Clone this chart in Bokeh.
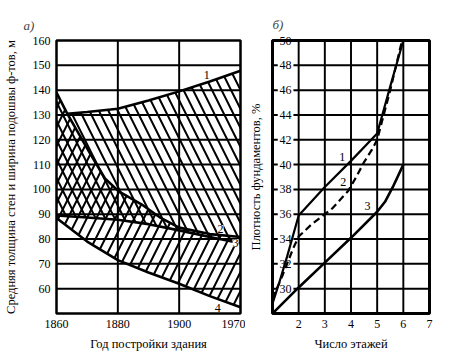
from bokeh.plotting import figure
from bokeh.layouts import row
from bokeh.models import FixedTicker, Range1d
from bokeh.core.properties import value
from bokeh.embed import file_html
from bokeh.resources import INLINE

# ---------------- Panel a) data ----------------
year_ticks = [1860, 1880, 1900, 1920]
year_tick_labels = {1860: "1860", 1880: "1880", 1900: "1900", 1920: "1970"}
year_grid = [1880, 1900]
wall_ticks = [60, 70, 80, 90, 100, 110, 120, 130, 140, 150, 160]
wall_grid = [60, 70, 80, 90, 100, 110, 120, 130, 140, 150]

line1_x = [1863.5, 1870, 1880, 1890, 1900, 1910, 1920]
line1_y = [130.5, 131.2, 132.5, 135.8, 139.5, 143.5, 147.8]
line2_x = [1860, 1863.5, 1870.6, 1875.8, 1880.3, 1887.7, 1894, 1900, 1910, 1920]
line2_y = [139.0, 130.5, 115.2, 104.4, 99.2, 94.0, 88.5, 84.6, 82.0, 80.8]
line3_x = [1860, 1870, 1880, 1890, 1900, 1910, 1920]
line3_y = [89.5, 88.7, 87.8, 86.0, 83.5, 80.8, 78.3]
line4_x = [1860, 1870, 1880, 1890, 1900, 1910, 1920]
line4_y = [88.5, 79.0, 71.5, 66.5, 62.0, 57.0, 52.5]

a_labels = ["1", "2", "3", "4"]
a_label_x = [1909.0, 1913.5, 1918.4, 1912.6]
a_label_y = [146.0, 84.0, 78.4, 52.4]

# ---------------- Panel б) data ----------------
floor_ticks = [2, 3, 4, 5, 6, 7]
floor_grid = [2, 3, 4, 5, 6]
density_ticks = [30, 32, 34, 36, 38, 40, 42, 44, 46, 48, 50]

c1_x = [1, 1.26, 1.56, 2, 3, 4, 5, 5.5, 6]
c1_y = [28.8, 30.5, 32.6, 35.9, 38.2, 40.3, 42.5, 46.3, 50.0]
c2_x = [1, 1.37, 1.8, 2, 2.5, 3, 3.3, 3.9, 4.2, 4.5, 4.8, 5, 5.5, 5.95]
c2_y = [29.2, 31.0, 33.3, 34.2, 35.2, 36.0, 36.5, 37.9, 39.0, 40.2, 41.2, 42.0, 46.0, 50.0]
c3_x = [1, 2, 3, 4, 5, 5.3, 5.6, 6]
c3_y = [28.0, 30.1, 32.1, 34.1, 36.2, 37.0, 38.2, 40.0]

b_labels = ["1", "2", "3"]
b_label_x = [3.67, 3.7, 4.63]
b_label_y = [40.6, 38.6, 36.7]

FONT = "Liberation Serif"

# ================= Figure a) =================
A_X0, A_X1, A_Y0, A_Y1 = 1860, 1920, 50, 160
A_HALF_X, A_HALF_Y = 0.32, 0.4   # half thickness of grid bars (~2 px)
pa = figure(width=245, height=353, output_backend="svg", toolbar_location=None,
            x_range=Range1d(A_X0, A_X1), y_range=Range1d(A_Y0, A_Y1),
            min_border_left=54, min_border_right=5, min_border_top=38,
            min_border_bottom=40, title="а)")
pa.title.text_font = FONT
pa.title.text_font_style = "italic"
pa.title.text_font_size = "13px"
pa.title.offset = -33
pa.title.standoff = 16
pa.outline_line_color = "black"
pa.outline_line_width = 2.5
pa.grid.visible = False

# grid as thin filled bars
pa.quad(left=[A_X0] * len(wall_grid), right=[A_X1] * len(wall_grid),
        bottom=[g - A_HALF_Y for g in wall_grid], top=[g + A_HALF_Y for g in wall_grid],
        fill_color="black", line_color=None)
pa.quad(left=[g - A_HALF_X for g in year_grid], right=[g + A_HALF_X for g in year_grid],
        bottom=[A_Y0] * len(year_grid), top=[A_Y1] * len(year_grid),
        fill_color="black", line_color=None)

upper_x = line2_x[:1] + line1_x + line3_x[::-1]
upper_y = line2_y[:1] + line1_y + line3_y[::-1]
lower_x = line2_x + line4_x[::-1]
lower_y = line2_y + line4_y[::-1]

pa.patch(upper_x, upper_y, fill_color=None, line_color=None,
         hatch_pattern="\\", hatch_color="black", hatch_weight=2, hatch_scale=19)
pa.patch(lower_x, lower_y, fill_color=None, line_color=None,
         hatch_pattern="/", hatch_color="black", hatch_weight=2, hatch_scale=19)

for xs, ys in [(line1_x, line1_y), (line2_x, line2_y), (line3_x, line3_y), (line4_x, line4_y)]:
    pa.line(xs, ys, line_color="black", line_width=2.6)

pa.text(a_label_x, a_label_y, text=a_labels, text_font=value(FONT),
        text_font_size="12px", text_align="center", text_baseline="middle",
        text_color="black", background_fill_color="white")

pa.xaxis.ticker = FixedTicker(ticks=year_ticks)
pa.xaxis.major_label_overrides = year_tick_labels
pa.yaxis.ticker = FixedTicker(ticks=wall_ticks)
for ax in (pa.xaxis, pa.yaxis):
    ax.axis_line_color = None
    ax.major_tick_out = 0
    ax.major_tick_in = 0
    ax.minor_tick_out = 0
    ax.minor_tick_in = 0
    ax.major_label_text_font = FONT
    ax.major_label_text_font_size = "12px"
    ax.major_label_text_color = "black"
    ax.axis_label_text_font = FONT
    ax.axis_label_text_font_size = "12.5px"
    ax.axis_label_text_font_style = "normal"
    ax.axis_label_text_color = "black"
pa.xaxis.axis_label = "Год постройки здания"
pa.yaxis.axis_label = "Средняя толщина стен и ширина подошвы ф-тов, м"
pa.yaxis.major_label_standoff = 6
pa.yaxis.axis_label_standoff = 12
pa.xaxis.major_label_standoff = 6
pa.xaxis.axis_label_standoff = 6

# ================= Figure б) =================
B_X0, B_X1, B_Y0, B_Y1 = 1, 7, 28, 50
B_GRID_START = 1.8
B_STUB = 1.2
B_HALF_X, B_HALF_Y = 0.037, 0.08   # half thickness of grid bars (~2 px)
pb = figure(width=204, height=353, output_backend="svg", toolbar_location=None,
            x_range=Range1d(B_X0, B_X1), y_range=Range1d(B_Y0, B_Y1),
            min_border_left=22, min_border_right=20, min_border_top=40,
            min_border_bottom=39, title="б)")
pb.title.text_font = FONT
pb.title.text_font_style = "italic"
pb.title.text_font_size = "13px"
pb.title.standoff = 18
pb.outline_line_color = "black"
pb.outline_line_width = 3
pb.grid.visible = False

pb.quad(left=[g - B_HALF_X for g in floor_grid], right=[g + B_HALF_X for g in floor_grid],
        bottom=[B_Y0] * len(floor_grid), top=[B_Y1] * len(floor_grid),
        fill_color="black", line_color=None)
pb.quad(left=[B_GRID_START] * len(density_ticks), right=[B_X1] * len(density_ticks),
        bottom=[g - B_HALF_Y for g in density_ticks], top=[g + B_HALF_Y for g in density_ticks],
        fill_color="black", line_color=None)
# short tick stubs on the left axis
pb.quad(left=[B_X0] * len(density_ticks), right=[B_STUB] * len(density_ticks),
        bottom=[g - B_HALF_Y for g in density_ticks], top=[g + B_HALF_Y for g in density_ticks],
        fill_color="black", line_color=None)

pb.line(c3_x, c3_y, line_color="black", line_width=2.6)
pb.line(c2_x, c2_y, line_color="black", line_width=2.2, line_dash="7 4")
pb.line(c1_x, c1_y, line_color="black", line_width=2.2)

pb.text(b_label_x, b_label_y, text=b_labels, text_font=value(FONT),
        text_font_size="12px", text_align="center", text_baseline="middle",
        text_color="black")

pb.xaxis.ticker = FixedTicker(ticks=floor_ticks)
pb.yaxis.ticker = FixedTicker(ticks=density_ticks)
for ax in (pb.xaxis, pb.yaxis):
    ax.axis_line_color = None
    ax.minor_tick_out = 0
    ax.minor_tick_in = 0
    ax.major_tick_out = 0
    ax.major_tick_in = 0
    ax.major_label_text_font = FONT
    ax.major_label_text_font_size = "12px"
    ax.major_label_text_color = "black"
    ax.axis_label_text_font = FONT
    ax.axis_label_text_font_size = "12.5px"
    ax.axis_label_text_font_style = "normal"
    ax.axis_label_text_color = "black"
pb.xaxis.major_label_standoff = 6
pb.xaxis.axis_label_standoff = 6
pb.xaxis.axis_label = "Число этажей"
pb.yaxis.major_label_standoff = -19
pb.yaxis.axis_label_standoff = 14
pb.yaxis.axis_label = "Плотность фундаментов, %"

layout = row(pa, pb)
open("out.html", "w").write(file_html(layout, INLINE))
